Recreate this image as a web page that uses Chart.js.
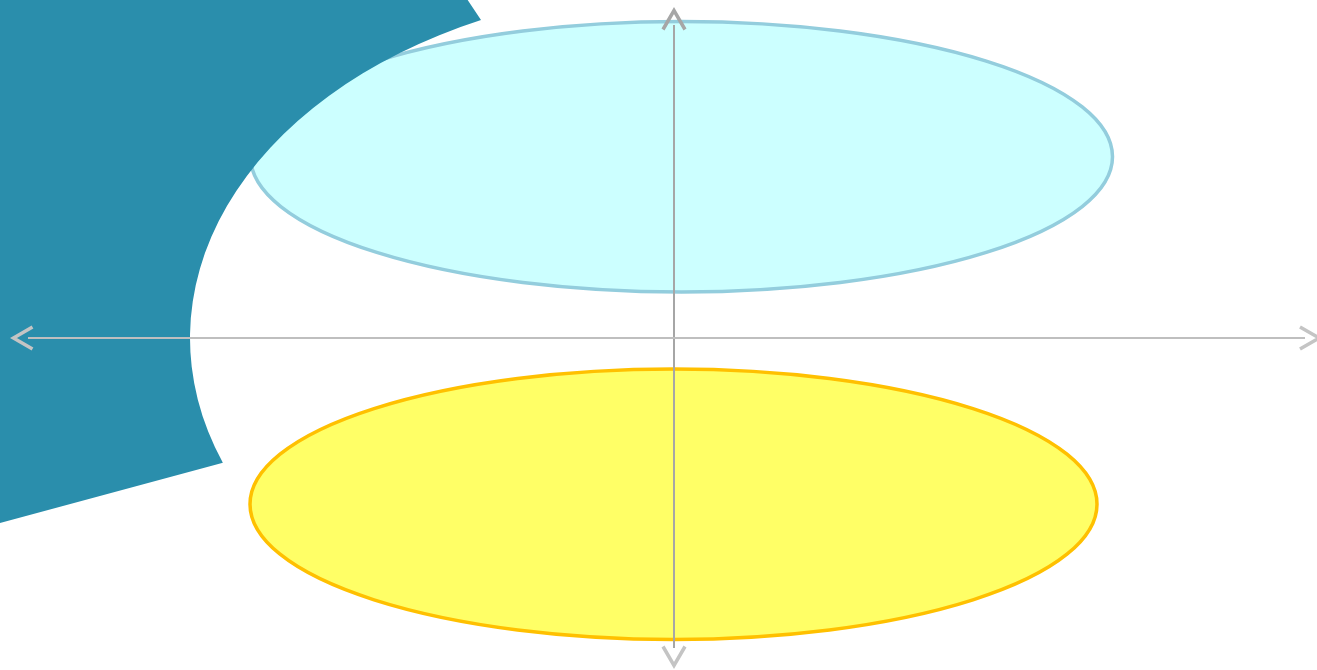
<!DOCTYPE html>
<html>
<head>
<meta charset="utf-8">
<title>chart</title>
<script src="https://cdn.jsdelivr.net/npm/chart.js@4/dist/chart.umd.min.js"></script>
<style>
html, body { margin: 0; padding: 0; background: #fff; overflow: hidden; }
.chart-box { width: 1317px; height: 670px; }
</style>
</head>
<body>
<div class="chart-box"><canvas id="myChart"></canvas></div>
<script>
// axes cross at 0,0 ; 1 unit = 1px
var xRange = [-674, 643];
var yRange = [-332, 338];

// axis lines and their arrow tips
var axisXLine = [-646, 631];
var axisYLine = [-310, 313];
var axisXEnds = [-660.5, 645];
var axisYEnds = [-327.5, 327.5];

// the two ellipses (top = cyan, bottom = yellow)
var ellipseNames = ['top', 'bottom'];
var ellipseCx = [7.5, -0.5];
var ellipseCy = [181.25, -166.2];
var ellipseRx = [431, 423.5];
var ellipseRy = [135.25, 135.2];

// teal shape corners; the edge from corner 2 to corner 3 follows the cut ellipse
var shapeX = [-678, -209, -193, -452, -678];
var shapeY = [342, 342, 318, -125, -186];
var cutCx = 16, cutCy = 0, cutRx = 500, cutRy = 350;

var ellipseStyle = {
    top: { fill: '#ccffff', stroke: '#93cddd' },
    bottom: { fill: '#ffff66', stroke: '#ffc000' }
};

// 椭圆 + teal shape - drawn under the axes
var shapesPlugin = {
    id: 'shapes',
    beforeDatasetsDraw: function(chart) {
        var ctx = chart.ctx, xs = chart.scales.x, ys = chart.scales.y;
        ctx.save();
        for (var i = 0; i < ellipseNames.length; i++) {
            var cx = xs.getPixelForValue(ellipseCx[i]);
            var cy = ys.getPixelForValue(ellipseCy[i]);
            var rx = Math.abs(xs.getPixelForValue(ellipseCx[i] + ellipseRx[i]) - cx);
            var ry = Math.abs(ys.getPixelForValue(ellipseCy[i] + ellipseRy[i]) - cy);
            var st = ellipseStyle[ellipseNames[i]];
            ctx.beginPath();
            ctx.ellipse(cx, cy, rx, ry, 0, 0, Math.PI * 2);
            ctx.fillStyle = st.fill;
            ctx.fill();
            ctx.lineWidth = 3.5;
            ctx.strokeStyle = st.stroke;
            ctx.stroke();
        }

        var px = shapeX.map(function(v) { return xs.getPixelForValue(v); });
        var py = shapeY.map(function(v) { return ys.getPixelForValue(v); });
        var ecx = xs.getPixelForValue(cutCx), ecy = ys.getPixelForValue(cutCy);
        var erx = Math.abs(xs.getPixelForValue(cutCx + cutRx) - ecx);
        var ery = Math.abs(ys.getPixelForValue(cutCy + cutRy) - ecy);
        var a1 = Math.atan2((py[2] - ecy) / ery, (px[2] - ecx) / erx);
        var a2 = Math.atan2((py[3] - ecy) / ery, (px[3] - ecx) / erx);
        ctx.beginPath();
        ctx.moveTo(px[0], py[0]);
        ctx.lineTo(px[1], py[1]);
        ctx.lineTo(px[2], py[2]);
        ctx.ellipse(ecx, ecy, erx, ery, 0, a1, a2, true);
        ctx.lineTo(px[3], py[3]);
        ctx.lineTo(px[4], py[4]);
        ctx.closePath();
        ctx.fillStyle = '#2a8eac';
        ctx.fill();
        ctx.restore();
    }
};

// arrows at the axis ends
function chevron(ctx, x, y, dx, dy, color) {
    // dx,dy = unit direction the arrow points to
    var depth = 19, half = 11;
    ctx.beginPath();
    ctx.moveTo(x - dx * depth - dy * half, y - dy * depth + dx * half);
    ctx.lineTo(x, y);
    ctx.lineTo(x - dx * depth + dy * half, y - dy * depth - dx * half);
    ctx.strokeStyle = color;
    ctx.lineWidth = 3.5;
    ctx.stroke();
}

var arrowsPlugin = {
    id: 'arrows',
    afterDatasetsDraw: function(chart) {
        var ctx = chart.ctx, xs = chart.scales.x, ys = chart.scales.y;
        var x0 = xs.getPixelForValue(0), y0 = ys.getPixelForValue(0);
        ctx.save();
        ctx.lineCap = 'butt';
        ctx.lineJoin = 'miter';
        chevron(ctx, xs.getPixelForValue(axisXEnds[0]), y0, -1, 0, '#c4c4c4');
        chevron(ctx, xs.getPixelForValue(axisXEnds[1]), y0, 1, 0, '#c4c4c4');
        chevron(ctx, x0, ys.getPixelForValue(axisYEnds[1]), 0, -1, '#a6a6a6');
        chevron(ctx, x0, ys.getPixelForValue(axisYEnds[0]), 0, 1, '#c4c4c4');
        ctx.restore();
    }
};

var ctx = document.getElementById('myChart').getContext('2d');
var myChart = new Chart(ctx, {
    type: 'scatter',
    data: {
        datasets: [{
            label: 'x axis',
            data: [{ x: axisXLine[0], y: 0 }, { x: axisXLine[1], y: 0 }],
            showLine: true,
            borderColor: '#bfbfbf',
            borderWidth: 2,
            pointRadius: 0,
            pointHoverRadius: 0
        }, {
            label: 'y axis',
            data: [{ x: 0, y: axisYLine[1] }, { x: 0, y: axisYLine[0] }],
            showLine: true,
            borderColor: '#a6a6a6',
            borderWidth: 2,
            pointRadius: 0,
            pointHoverRadius: 0
        }]
    },
    options: {
        responsive: true,
        maintainAspectRatio: false,
        animation: false,
        layout: { padding: 0 },
        plugins: {
            legend: { display: false },
            tooltip: { enabled: false }
        },
        scales: {
            x: { type: 'linear', min: xRange[0], max: xRange[1], display: false },
            y: { type: 'linear', min: yRange[0], max: yRange[1], display: false }
        }
    },
    plugins: [shapesPlugin, arrowsPlugin]
});
</script>
</body>
</html>
